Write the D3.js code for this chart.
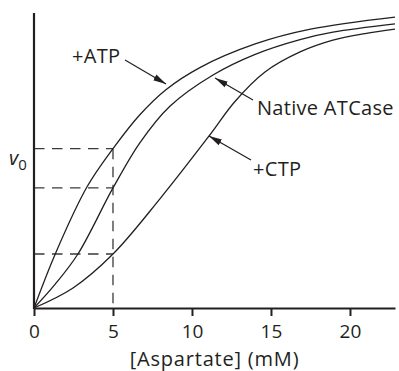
<!DOCTYPE html>
<html>
<head>
<meta charset="utf-8">
<script src="https://cdn.jsdelivr.net/npm/d3@7"></script>
<style>
  body { margin: 0; background: #fff; }
  svg text { font-family: "Open Sans", "Noto Sans", sans-serif; fill: #231f20; }
</style>
</head>
<body>
<svg width="399" height="371"></svg>
<script>
// curves: [aspartate mM, v0 as fraction of axis height]
var atpCurve = [[0,0],[1.4,0.19],[3.35,0.41],[5,0.54],[6.7,0.655],[8.35,0.74],[10.5,0.815],[14,0.895],[17.5,0.945],[22.85,0.986]];
var nativeCurve = [[0,0],[1.33,0.08],[2.78,0.183],[5,0.407],[6.7,0.56],[8.6,0.684],[11.33,0.79],[14,0.86],[16.84,0.91],[18.92,0.935],[22.85,0.963]];
var ctpCurve = [[0,0],[2.47,0.068],[5,0.183],[7.97,0.37],[11.08,0.583],[12.72,0.70],[14.62,0.80],[16.84,0.868],[18.92,0.908],[20.95,0.93],[22.85,0.945]];

var xTicks = [0, 5, 10, 15, 20];
var markX = 5;                       // the dashed guide at 5 mM
var curveNames = ["+ATP", "Native ATCase", "+CTP"];

var svg = d3.select("svg");
var ink = "#231f20";

var xScale = d3.scaleLinear().domain([0, 22.85]).range([34, 395]);
var yScale = d3.scaleLinear().domain([0, 1]).range([308, 13]);

// arrow head
svg.append("defs").append("marker")
    .attr("id", "head")
    .attr("markerUnits", "userSpaceOnUse")
    .attr("viewBox", "0 0 13 8")
    .attr("refX", 13).attr("refY", 4)
    .attr("markerWidth", 13).attr("markerHeight", 8)
    .attr("orient", "auto")
  .append("path")
    .attr("d", "M0,0.7 L13,4 L0,7.3 Z")
    .attr("fill", ink);

// dashed guides at 5 mM, hitting each curve
var atX = [atpCurve, nativeCurve, ctpCurve].map(function(c) {
    return c.find(function(p) { return p[0] === markX; })[1];
});
var guides = svg.append("g")
    .attr("stroke", "#3a3a3a")
    .attr("stroke-width", 1.3)
    .attr("stroke-dasharray", "10.5,7.5")
    .attr("fill", "none");
atX.forEach(function(v) {
    guides.append("line")
        .attr("x1", xScale(0)).attr("x2", xScale(markX))
        .attr("y1", yScale(v)).attr("y2", yScale(v));
});
guides.append("line")
    .attr("x1", xScale(markX)).attr("x2", xScale(markX))
    .attr("y1", yScale(d3.max(atX))).attr("y2", yScale(0));

// the three curves
var line = d3.line()
    .x(function(d) { return xScale(d[0]); })
    .y(function(d) { return yScale(d[1]); })
    .curve(d3.curveCatmullRom.alpha(0.5));

svg.selectAll(".curve")
    .data([atpCurve, nativeCurve, ctpCurve])
    .enter().append("path")
    .attr("class", "curve")
    .attr("d", line)
    .attr("fill", "none")
    .attr("stroke", ink)
    .attr("stroke-width", 1.3);

// x axis
var xAxis = svg.append("g")
    .attr("transform", "translate(0," + yScale(0) + ")")
    .call(d3.axisBottom(xScale).tickValues(xTicks).tickSize(8).tickSizeOuter(0).tickPadding(9));
xAxis.select(".domain").attr("stroke", ink).attr("stroke-width", 2.2);
xAxis.selectAll(".tick line").attr("stroke", ink).attr("stroke-width", 2);
xAxis.selectAll(".tick text")
    .attr("font-size", "19px")
    .attr("font-family", "Open Sans, sans-serif")
    .attr("fill", ink);

// y axis is only a bare line
svg.append("line")
    .attr("x1", xScale(0)).attr("x2", xScale(0))
    .attr("y1", yScale(1)).attr("y2", yScale(0) + 1)
    .attr("stroke", ink)
    .attr("stroke-width", 2.2);

svg.append("text")
    .attr("x", (xScale(0) + xScale.range()[1]) / 2)
    .attr("y", 365.5)
    .attr("text-anchor", "middle")
    .attr("font-size", "20px")
    .attr("letter-spacing", "0.8px")
    .text("[Aspartate] (mM)");

var v0 = svg.append("text")
    .attr("x", 9)
    .attr("y", 165)
    .attr("font-size", "20px");
v0.append("tspan").attr("font-style", "italic").text("v");
v0.append("tspan").attr("font-size", "15px").attr("dy", 5).text("0");

// labels with arrows pointing at their curve
var labels = [
    {text: curveNames[0], x: 72, y: 63, from: [125, 60], to: [166, 84]},
    {text: curveNames[1], x: 257, y: 115, from: [253, 100], to: [215, 78]},
    {text: curveNames[2], x: 253, y: 176, from: [251, 160], to: [209, 136]}
];
labels.forEach(function(l) {
    svg.append("text")
        .attr("x", l.x).attr("y", l.y)
        .attr("font-size", "20px")
        .attr("letter-spacing", "0.3px")
        .text(l.text);
    svg.append("line")
        .attr("x1", l.from[0]).attr("y1", l.from[1])
        .attr("x2", l.to[0]).attr("y2", l.to[1])
        .attr("stroke", ink)
        .attr("stroke-width", 1.2)
        .attr("marker-end", "url(#head)");
});
</script>
</body>
</html>
